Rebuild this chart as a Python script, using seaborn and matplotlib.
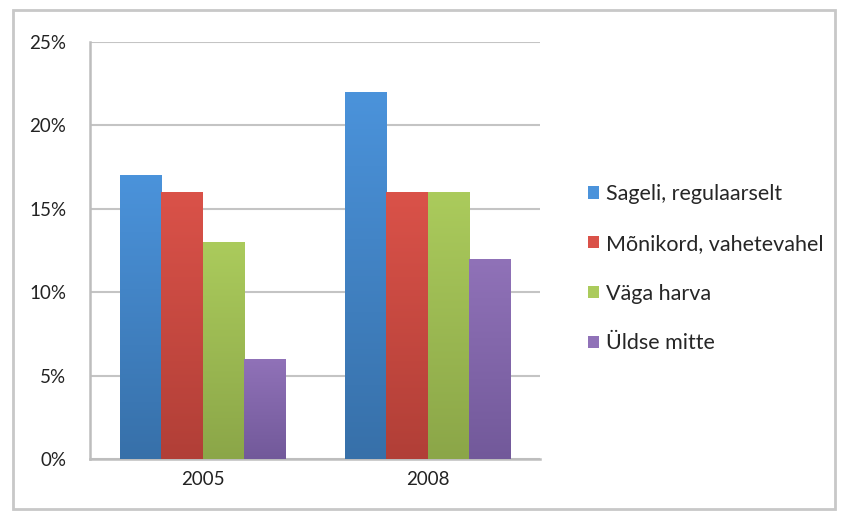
import numpy as np
import pandas as pd
import matplotlib.pyplot as plt
import seaborn as sns
from matplotlib.patches import Patch, Rectangle
from matplotlib.colors import LinearSegmentedColormap

# ==========================================
# Data
# ==========================================

years = ["2005", "2008"]
categories = ["Sageli, regulaarselt", "Mõnikord, vahetevahel", "Väga harva", "Üldse mitte"]
values_2005 = [17, 16, 13, 6]
values_2008 = [22, 16, 16, 12]

# top / bottom colours of each bar gradient
top_colors = ["#4b93db", "#da5249", "#abcb5c", "#9072b8"]
bottom_colors = ["#3770a9", "#b13f37", "#8ba648", "#72599a"]

rows = []
for year, vals in zip(years, [values_2005, values_2008]):
    for cat, v in zip(categories, vals):
        rows.append({"year": year, "category": cat, "value": v})
df = pd.DataFrame(rows)

# ==========================================
# Plot
# ==========================================

sns.set_style("white")
plt.rcParams["font.family"] = ["Lato", "DejaVu Sans"]

fig = plt.figure(figsize=(8.43, 5.17), dpi=100)
ax = fig.add_axes([0.1068, 0.1122, 0.5338, 0.8066])

sns.barplot(data=df, x="year", y="value", hue="category", order=years,
            hue_order=categories, palette=top_colors, saturation=1,
            width=0.73, gap=0, ax=ax, legend=False, zorder=3)

# vertical gradient inside every bar
for i, cont in enumerate(ax.containers):
    cmap = LinearSegmentedColormap.from_list("g", [bottom_colors[i], top_colors[i]])
    for bar in cont:
        x0, y0 = bar.get_x(), bar.get_y()
        w, h = bar.get_width(), bar.get_height()
        grad = np.linspace(0, 1, 256).reshape(-1, 1)
        im = ax.imshow(grad, cmap=cmap, origin="lower", aspect="auto",
                       extent=[x0, x0 + w, y0, y0 + h], zorder=4)
        im.set_clip_path(bar)
        bar.set_edgecolor("none")

ax.set_xlim(-0.5, 1.5)
ax.set_ylim(0, 25)
ax.set_yticks([0, 5, 10, 15, 20, 25])
ax.set_yticklabels(["0%", "5%", "10%", "15%", "20%", "25%"])
ax.set_xlabel("")
ax.set_ylabel("")

ax.grid(axis="y", color="#c4c4c4", linewidth=1.5, zorder=0)
ax.set_axisbelow(True)

for s in ["top", "right"]:
    ax.spines[s].set_visible(False)
for s in ["left", "bottom"]:
    ax.spines[s].set_color("#bdbdbd")
    ax.spines[s].set_linewidth(1.8)

ax.tick_params(axis="y", length=5, width=1.5, color="#bdbdbd",
               labelsize=13.5, labelcolor="#222222", pad=12)
ax.tick_params(axis="x", which="major", length=0, labelsize=13.5,
               labelcolor="#222222", pad=9)
ax.set_xticks([-0.5, 0.5, 1.5], minor=True)
ax.tick_params(axis="x", which="minor", length=6, width=1.5, color="#bdbdbd")

handles = [Patch(facecolor=c, edgecolor="none") for c in top_colors]
fig.legend(handles, categories, loc="center left", bbox_to_anchor=(0.675, 0.48),
           frameon=False, fontsize=15.5, labelspacing=1.38,
           handlelength=0.5, handleheight=0.5, handletextpad=0.3)

# outer chart frame
fig.patches.append(Rectangle((0.015, 0.015), 0.975, 0.965, transform=fig.transFigure,
                             fill=False, edgecolor="#c8c8c8", linewidth=2))

fig.savefig("out.png", dpi=100)
